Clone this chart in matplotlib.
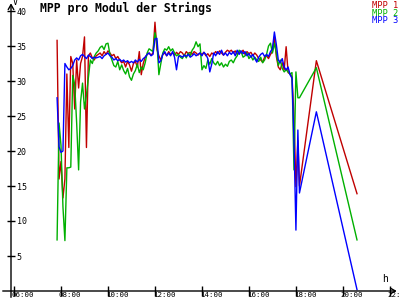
import matplotlib
matplotlib.use('Agg')
import matplotlib.pyplot as plt

# --- DATOS ---
# dense samples every 5 minutes from 07:50 to 18:05, then three sparse readings
inicio = 7 + 50 / 60
n_denso = 124
t_denso = [inicio + i / 12 for i in range(n_denso)]
t_cola = [18.15, 18.87, 20.6]
horas = t_denso + t_cola

mpp1 = [35.8, 16.0, 18.5, 13.3, 16.0, 31.0, 20.5, 33.5, 32.5, 26.0,
        33.0, 29.0, 32.5, 33.5, 36.3, 20.5, 33.6, 34.0, 33.3, 33.0,
        33.6, 33.8, 34.0, 33.6, 34.2, 33.8, 34.3, 34.0, 33.6, 33.8,
        33.2, 33.5, 33.0, 32.6, 32.8, 32.0, 32.8, 32.3, 31.4, 32.5,
        32.8, 32.0, 34.2, 30.9, 32.5, 33.4, 33.8, 34.0, 33.7, 34.0,
        38.4, 34.5, 33.6, 33.0, 33.8, 34.0, 33.6, 34.2, 33.8, 34.0,
        33.7, 34.1, 33.8, 34.2, 34.0, 33.6, 34.2, 33.9, 34.1, 33.8,
        34.2, 34.0, 33.7, 34.0, 33.8, 34.1, 33.6, 33.9, 33.5, 34.0,
        33.8, 34.2, 33.9, 34.3, 34.0, 33.7, 34.1, 34.4, 34.2, 34.4,
        34.0, 34.3, 33.8, 34.2, 34.0, 34.4, 33.8, 34.2, 33.9, 34.1,
        33.6, 34.0, 33.7, 33.2, 33.0, 32.7, 33.4, 33.6, 33.2, 33.8,
        34.2, 36.3, 33.5, 32.0, 31.6, 32.6, 31.6, 34.9, 31.2, 31.0,
        30.6, 25.0, 14.9, 21.5,
        15.0, 32.9, 13.9]

mpp2 = [7.3, 24.0, 20.8, 12.0, 7.2, 17.6, 17.6, 17.7, 30.8, 29.5,
        24.0, 17.3, 27.0, 29.7, 26.0, 28.0, 30.5, 33.0, 32.5, 33.5,
        34.0, 34.3, 34.8, 35.0, 34.5, 35.3, 35.4, 33.8, 33.0, 32.2,
        32.0, 32.8, 31.6, 32.3, 31.5, 31.0, 31.8, 30.6, 30.1, 31.0,
        31.5, 32.4, 31.2, 32.0, 31.6, 32.6, 34.0, 34.6, 34.4, 34.2,
        36.9, 35.5, 30.9, 32.5, 34.0, 34.6, 34.4, 34.9, 34.3, 34.6,
        34.0, 33.6, 33.8, 33.4, 33.2, 33.8, 33.3, 34.0, 33.6, 34.4,
        34.8, 35.6, 34.9, 35.3, 31.6, 32.2, 31.8, 33.0, 32.4, 33.2,
        32.6, 32.3, 32.8, 32.2, 32.6, 32.0, 32.4, 32.1, 32.8, 33.0,
        32.6, 33.2, 33.6, 34.4, 34.2, 33.4, 33.6, 34.0, 33.2, 33.6,
        33.0, 33.4, 33.0, 32.8, 33.4, 32.6, 33.0, 33.8, 35.0, 35.4,
        34.0, 35.4, 34.0, 32.2, 33.0, 31.8, 31.3, 31.6, 31.3, 31.0,
        31.2, 17.3, 31.3, 27.6,
        27.6, 31.9, 7.3]

mpp3 = [27.6, 20.6, 19.8, 20.0, 32.5, 32.0, 31.6, 31.8, 32.2, 33.0,
        33.3, 33.0, 33.6, 33.8, 33.5, 33.2, 33.7, 33.5, 33.2, 33.4,
        33.3, 33.4, 33.5, 33.2, 33.6, 33.8, 34.0, 33.6, 33.4, 33.0,
        33.2, 32.9, 33.1, 32.8, 33.0, 32.7, 32.9, 32.6, 32.8, 32.6,
        33.0, 32.7, 33.1, 32.8, 33.2, 33.4, 33.8, 34.0, 33.6, 33.8,
        36.0, 36.1, 32.6, 32.9, 33.8, 34.2, 33.6, 34.0, 33.6, 34.2,
        33.4, 31.6, 33.5, 33.6, 33.4, 33.7, 33.5, 33.8, 33.4, 33.6,
        33.9, 33.6, 33.8, 34.0, 33.6, 34.1, 33.8, 33.2, 31.3, 32.4,
        34.0, 33.6, 34.2, 33.8, 34.4, 33.7, 34.0, 33.6, 34.1, 33.8,
        34.2, 33.6, 34.4, 33.8, 34.3, 33.9, 34.2, 33.6, 33.9, 33.4,
        33.8, 33.2, 32.7, 33.4, 33.8, 34.0, 33.5, 33.8, 33.5, 34.2,
        34.6, 37.0, 35.2, 33.0, 32.6, 33.2, 32.0, 31.6, 32.0, 30.9,
        30.4, 21.6, 8.7, 23.0,
        14.0, 25.6, 0.2]

series = ['MPP 1', 'MPP 2', 'MPP 3']
colores = ['#c00000', '#00b000', '#0000ff']
ticks_x = [6, 8, 10, 12, 14, 16, 18, 20, 22]
ticks_y = [5, 10, 15, 20, 25, 30, 35, 40]

# --- GRAFICO ---
plt.rcParams['font.family'] = 'DejaVu Sans Mono'

fig = plt.figure(figsize=(4, 3), dpi=100)
ax = fig.add_axes([11 / 400, 9 / 300, 389 / 400, 288 / 300])
x0, x1 = 5.872, 22.43
ax.set_xlim(x0, x1)
ax.set_ylim(0, 288 / 7)
for s in ax.spines.values():
    s.set_visible(False)

for valores, color in zip([mpp1, mpp2, mpp3], colores):
    ax.plot(horas, valores, color=color, lw=1.0)

# ejes con flecha
ax.annotate('', xy=(x1 - 0.02, 0), xytext=(x0 - 0.47, 0),
            arrowprops=dict(arrowstyle='->,head_length=0.35,head_width=0.2', lw=1.0, color='black'),
            annotation_clip=False)
ax.annotate('', xy=(x0, 41.5), xytext=(x0, -1.3),
            arrowprops=dict(arrowstyle='->,head_length=0.35,head_width=0.2', lw=1.0, color='black'),
            annotation_clip=False)

ax.set_yticks(ticks_y)
ax.set_yticklabels([str(v) for v in ticks_y])
ax.tick_params(axis='y', direction='inout', length=6, width=1, pad=-7, labelsize=6)
for lab in ax.get_yticklabels():
    lab.set_ha('left')

ax.set_xticks(ticks_x)
ax.set_xticklabels([])
ax.tick_params(axis='x', direction='inout', length=7, width=1)
for h in ticks_x:
    ax.text(h - 0.09, -0.15, '%02d:00' % h, fontsize=5.4, ha='left', va='top',
            transform=ax.transData, clip_on=False)

ax.text(x0 + 0.08, 41.2, 'V', fontsize=6, ha='left', va='center', clip_on=False)
ax.text(21.8, 1.0, 'h', fontsize=7, ha='center', va='bottom')

fig.text(40 / 400, 1 - 2 / 300, 'MPP pro Modul der Strings', fontsize=8.3,
         fontweight='bold', ha='left', va='top')
for k, (nombre, color) in enumerate(zip(series, colores)):
    fig.text(398 / 400, 1 - (5.5 + 7.7 * k) / 300, nombre, color=color,
             fontsize=6.3, ha='right', va='center')

fig.savefig('out.png', dpi=100, facecolor='white')
